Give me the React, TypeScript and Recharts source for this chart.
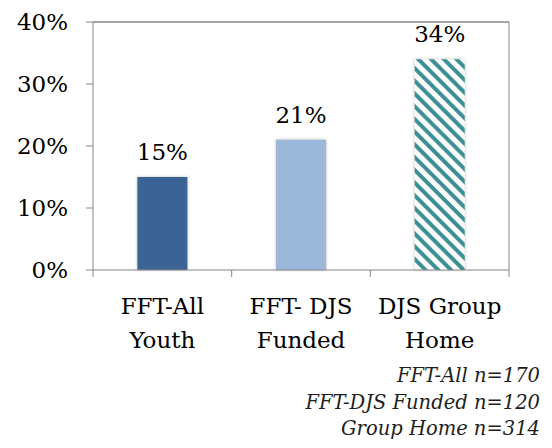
import React from "react";
import { BarChart, Bar, XAxis, YAxis, Cell, LabelList, CartesianGrid } from "recharts";

const categories = ["FFT-All\nYouth", "FFT- DJS\nFunded", "DJS Group\nHome"];
const rates = [15, 21, 34];
const barFills = ["#3a6394", "#9bb7da", "url(#hatch)"];
const yTicks = [0, 10, 20, 30, 40];
const notes = ["FFT-All n=170", "FFT-DJS Funded n=120", "Group Home n=314"];

const data = categories.map((name, i) => ({ name, rate: rates[i] }));

const FONT = "'DejaVu Serif', serif";
const AXIS = "#868686";

function CategoryTick(props: any) {
  const { x, y, payload, index, width } = props;
  const half = payload.offset ?? width / categories.length / 2;
  const lines = String(payload.value).split("\n");
  return (
    <g>
      <line x1={x - half} x2={x - half} y1={y} y2={y + 7} stroke={AXIS} />
      {index === categories.length - 1 && (
        <line x1={x + half} x2={x + half} y1={y} y2={y + 7} stroke={AXIS} />
      )}
      {lines.map((t, i) => (
        <text key={i} x={x} y={y + 44 + i * 34} textAnchor="middle" fill="#000" fontSize={23} fontFamily={FONT}>
          {t}
        </text>
      ))}
    </g>
  );
}

export default function App() {
  return (
    <div style={{ position: "absolute", left: 0, top: 0, width: 552, height: 448, background: "#fff" }}>
      <BarChart
        width={552}
        height={360}
        data={data}
        margin={{ top: 22, right: 0, bottom: 0, left: 0 }}
        barCategoryGap="32%"
        style={{ fontFamily: FONT }}
      >
        <defs>
          <pattern id="hatch" width="9" height="9" patternUnits="userSpaceOnUse" patternTransform="rotate(-45)">
            <rect width="9" height="9" fill="#fff" />
            <rect width="4" height="9" fill="#3e9196" />
          </pattern>
          <filter id="shade" x="-20%" y="-20%" width="140%" height="140%">
            <feDropShadow dx="0" dy="0" stdDeviation="1.6" floodColor="#888" floodOpacity="0.6" />
          </filter>
        </defs>
        {/* top border of the plot box */}
        <CartesianGrid
          vertical={false}
          stroke={AXIS}
          strokeWidth={1.5}
          strokeOpacity={1}
          horizontalCoordinatesGenerator={(p: any) => [p.offset.top]}
        />
        <XAxis
          dataKey="name"
          height={90}
          axisLine={{ stroke: AXIS }}
          tickLine={false}
          tickSize={0}
          tickMargin={0}
          interval={0}
          tick={<CategoryTick />}
        />
        <YAxis
          width={93}
          domain={[0, 40]}
          ticks={yTicks}
          tickFormatter={(v) => `${v}%`}
          tickSize={7}
          tickMargin={18}
          axisLine={{ stroke: AXIS }}
          tickLine={{ stroke: AXIS }}
          tick={{ fill: "#000", fontSize: 23, fontFamily: FONT }}
        />
        <YAxis yAxisId="right" orientation="right" width={43} tick={false} tickLine={false} axisLine={{ stroke: AXIS }} />
        <Bar dataKey="rate" isAnimationActive={false} filter="url(#shade)">
          {data.map((d, i) => (
            <Cell key={d.name} fill={barFills[i]} />
          ))}
          <LabelList
            dataKey="rate"
            position="top"
            offset={17}
            formatter={(v: any) => `${v}%`}
            style={{ fill: "#000", fontSize: 23, fontFamily: FONT }}
          />
        </Bar>
      </BarChart>
      <div
        style={{
          position: "absolute",
          right: 12,
          top: 363,
          textAlign: "right",
          fontFamily: FONT,
          fontStyle: "italic",
          fontSize: 19.5,
          lineHeight: "26.5px",
          color: "#1e1e1e",
        }}
      >
        {notes.map((n) => (
          <div key={n}>{n}</div>
        ))}
      </div>
    </div>
  );
}
